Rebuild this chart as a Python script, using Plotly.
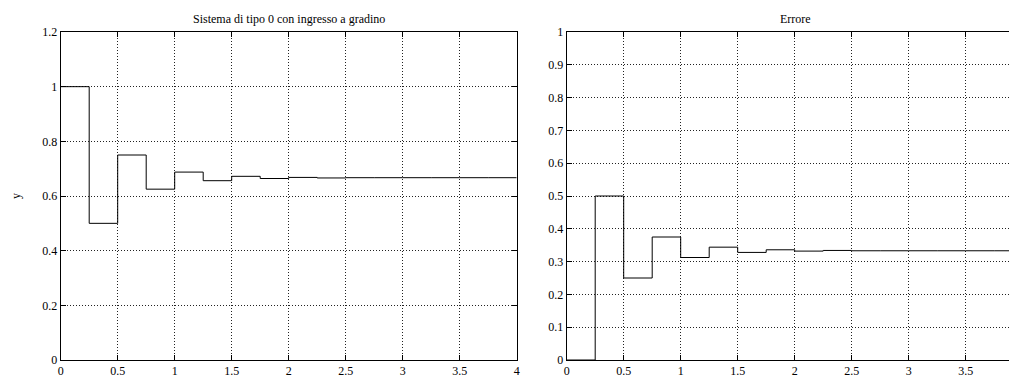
import plotly.graph_objects as go
from plotly.subplots import make_subplots

# Data
t_step = [0, 0.25, 0.5, 0.75, 1.0, 1.25, 1.5, 1.75, 2.0, 2.25, 2.5, 2.75, 3.0, 3.25, 3.5, 3.75, 4.0]
y_out = [1.0, 0.5, 0.75, 0.625, 0.6875, 0.656, 0.672, 0.664, 0.668, 0.666, 0.667, 0.667, 0.667, 0.667, 0.667, 0.667, 0.667]
err = [0.0, 0.5, 0.25, 0.375, 0.3125, 0.344, 0.328, 0.336, 0.332, 0.334, 0.333, 0.333, 0.333, 0.333, 0.333, 0.333, 0.333]

x_ticks_left = [0, 0.5, 1, 1.5, 2, 2.5, 3, 3.5, 4]
x_ticks_right = [0, 0.5, 1, 1.5, 2, 2.5, 3, 3.5]
y_ticks_left = [0, 0.2, 0.4, 0.6, 0.8, 1, 1.2]
y_ticks_right = [0, 0.1, 0.2, 0.3, 0.4, 0.5, 0.6, 0.7, 0.8, 0.9, 1]

title_left = "Sistema di tipo 0 con ingresso a gradino"
title_right = "Errore"
ylabel_left = "y"

W, H = 1017, 376
OFF = 8  # page body margin offset
FONT = "Times New Roman"

fig = make_subplots(rows=1, cols=2)

fig.add_trace(go.Scatter(x=t_step, y=y_out, mode="lines", line=dict(shape="hv", color="black", width=1),
                         showlegend=False), row=1, col=1)
fig.add_trace(go.Scatter(x=t_step, y=err, mode="lines", line=dict(shape="hv", color="black", width=1),
                         showlegend=False), row=1, col=2)

def fmt(v):
    return ("%g" % v)

axis_common = dict(
    showgrid=True, gridcolor="#222222", griddash="1px,2px", gridwidth=1,
    showline=True, linecolor="black", linewidth=1,
    ticks="inside", ticklen=5, tickcolor="black", tickwidth=1,
    zeroline=False, automargin=False,
    tickfont=dict(family=FONT, size=12, color="black"),
)

left_x0 = (60.7 - OFF) / W
left_x1 = (516.7 - OFF) / W
right_x0 = (566.7 - OFF) / W
right_x1 = (1022.7 - OFF) / W

fig.update_layout(
    xaxis=dict(domain=[left_x0, left_x1], range=[0, 4], tickvals=x_ticks_left,
               ticktext=[fmt(v) for v in x_ticks_left], mirror="ticks", **axis_common),
    yaxis=dict(domain=[0, 1], range=[0, 1.2], tickvals=y_ticks_left,
               ticktext=[fmt(v) for v in y_ticks_left], mirror="ticks", **axis_common),
    xaxis2=dict(domain=[right_x0, right_x1], range=[0, 4], tickvals=x_ticks_right,
                ticktext=[fmt(v) for v in x_ticks_right], mirror="ticks", **axis_common),
    yaxis2=dict(domain=[0, 1], range=[0, 1], tickvals=y_ticks_right,
                ticktext=[fmt(v) for v in y_ticks_right], mirror="ticks", **axis_common),
)

fig.update_layout(
    width=W, height=H,
    margin=dict(l=0, r=0, t=32 - OFF, b=H - (360 - OFF)),
    paper_bgcolor="white", plot_bgcolor="white",
    font=dict(family=FONT, size=12, color="black"),
    annotations=[
        dict(text=title_left, x=(288.5 - OFF) / W, y=1, xref="paper", yref="paper",
             xanchor="center", yanchor="bottom", yshift=4, showarrow=False,
             font=dict(family=FONT, size=12, color="black")),
        dict(text=title_right, x=(795 - OFF) / W, y=1, xref="paper", yref="paper",
             xanchor="center", yanchor="bottom", yshift=4, showarrow=False,
             font=dict(family=FONT, size=12, color="black")),
        dict(text=ylabel_left, x=(16 - OFF) / W, y=0.5, xref="paper", yref="paper",
             xanchor="center", yanchor="middle", textangle=-90, showarrow=False,
             font=dict(family=FONT, size=12, color="black")),
    ],
)

fig.write_html("out.html")
